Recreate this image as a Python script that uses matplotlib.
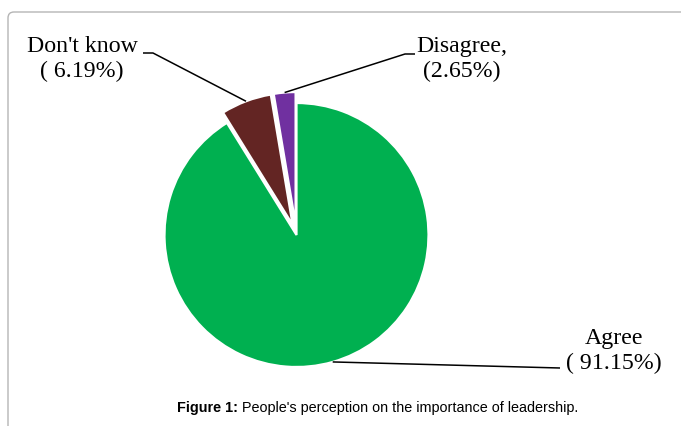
import math
import matplotlib
matplotlib.use("Agg")
import matplotlib.pyplot as plt
from matplotlib.patches import FancyBboxPatch
from matplotlib.lines import Line2D
from matplotlib.transforms import IdentityTransform

# Survey responses
categories = ["Agree", "Don't know", "Disagree"]
shares = [91.15, 6.19, 2.65]
label_texts = ["Agree\n( 91.15%)", "Don't know\n( 6.19%)", "Disagree,\n(2.65%)"]
colors = ["#00B050", "#632523", "#7030A0"]

W, H = 681, 426
fig = plt.figure(figsize=(W / 100, H / 100), dpi=100)

# Pie geometry in pixels (measured from top-left)
R = 132.0
cx, cy = 296.5, 235.0

ax = fig.add_axes([0, 0, 1, 1])
ax.axis("off")

explode = [0, 0.083, 0.083]
wedges, _ = ax.pie(shares, colors=colors, startangle=90, counterclock=False,
                   explode=explode, radius=1.0, center=(0, 0),
                   wedgeprops=dict(edgecolor="white", linewidth=1.6))
ax.set_aspect("auto")
ax.set_xlim(-cx / R, (W - cx) / R)
ax.set_ylim(-(H - cy) / R, cy / R)


def px(x, y):
    """Image pixel (origin top-left) to figure fraction."""
    return x / W, 1 - y / H


def arc_mid(w):
    th = math.radians(0.5 * (w.theta1 + w.theta2))
    c = w.center
    return c[0] + w.r * math.cos(th), c[1] + w.r * math.sin(th)


def data_to_fig(pt):
    disp = ax.transData.transform(pt)
    return fig.transFigure.inverted().transform(disp)


# Label positions (text center) and leader knee points, in image pixels
label_pos = [(614, 351), (82, 59), (462, 59)]
leader_knees = [[(560, 368)], [(153, 53), (143, 53)], [(405, 54), (415, 54)]]

for w, txt, (lx, ly), knees in zip(wedges, label_texts, label_pos, leader_knees):
    fig.text(*px(lx, ly), txt, ha="center", va="center", ma="center",
             family="Liberation Serif", fontsize=17.2, color="black",
             linespacing=1.2)
    start = data_to_fig(arc_mid(w))
    xs = [start[0]] + [px(*k)[0] for k in knees]
    ys = [start[1]] + [px(*k)[1] for k in knees]
    fig.add_artist(Line2D(xs, ys, transform=fig.transFigure, color="black",
                          linewidth=1.1, solid_capstyle="butt"))

# Page frame
frame = FancyBboxPatch((8, -20), 800, H - 12 + 20,
                       boxstyle="round,pad=0,rounding_size=6",
                       transform=IdentityTransform(), facecolor="none",
                       edgecolor="#b5b5b5", linewidth=1.0)
fig.add_artist(frame)

# Caption
cap_y = px(0, 408)[1]
t1 = fig.text(0, cap_y, "Figure 1:", ha="left", va="center",
              family="Liberation Sans", fontsize=10.35, fontweight="bold")
t2 = fig.text(0, cap_y, " People's perception on the importance of leadership.",
              ha="left", va="center", family="Liberation Sans", fontsize=10.35)
fig.canvas.draw()
r = fig.canvas.get_renderer()
w1 = t1.get_window_extent(r).width
w2 = t2.get_window_extent(r).width
x0 = 378 - (w1 + w2) / 2
t1.set_x(x0 / W)
t2.set_x((x0 + w1) / W)

fig.savefig("out.png", dpi=100, facecolor="white")
